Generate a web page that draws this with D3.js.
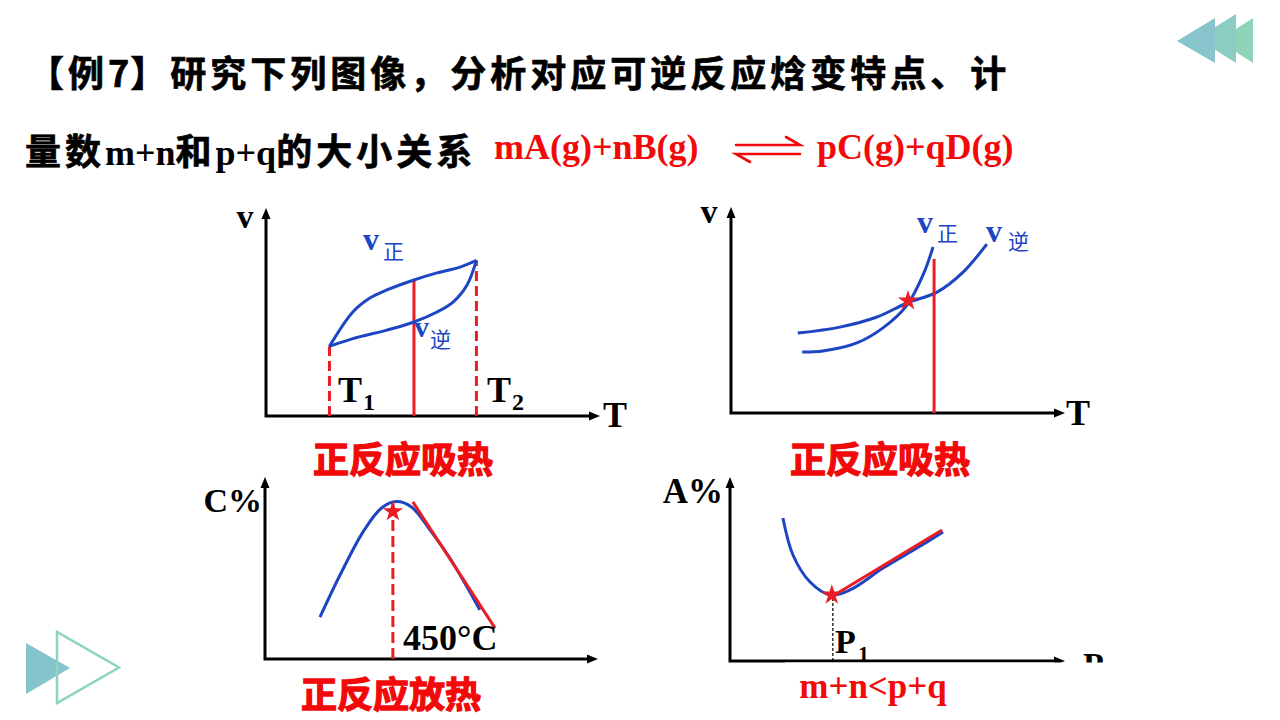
<!DOCTYPE html>
<html><head><meta charset="utf-8">
<script src="https://cdn.jsdelivr.net/npm/d3@7"></script>
<style>body{margin:0;background:#fff;} svg{display:block;}</style>
</head><body>
<svg id="c" width="1280" height="720"></svg>
<script>
// ---------------- DATA ----------------
const titleLine1 = [["【例","cjk"],["7","num"],["】研究下列图像，分析对应可逆反应焓变特点、计","cjk"]];
const titleLine2 = [["量数","cjk"],["m+n","lat"],["和","cjk"],["p+q","lat"],["的大小关系","cjk"]];
const eqLeft = "mA(g)+nB(g)";
const eqRight = "pC(g)+qD(g)";

// Panel 1: v vs T (T1..T2)
const p1VForward = [[1.9,3.35],[2.6,5.0],[3.11,5.67],[3.62,6.06],[4.43,6.54],[5.12,6.88],[5.81,7.16],[6.3,7.48]];
const p1VReverse = [[1.9,3.35],[2.6,3.72],[3.62,4.13],[4.43,4.52],[5.12,5.0],[5.6,5.48],[6.02,6.3],[6.3,7.48]];
const p1Marks = {t1:1.9, t2:6.3, tMid:4.43};

// Panel 2: v vs T, crossing curves
const p2VForward = [[2.13,2.96],[2.75,3.01],[3.77,3.4],[4.55,4.13],[5.27,5.24],[5.75,6.7],[6.05,8.06]];
const p2VReverse = [[2.0,3.88],[3.26,4.17],[4.37,4.66],[5.27,5.34],[6.17,5.87],[6.95,6.84],[7.66,8.2]];
const p2Star = [5.3,5.45];
const p2Line = [[6.08,0],[6.08,7.48]];

// Panel 3: C% vs T
const p3Curve = [[1.65,2.3],[2.25,4.6],[2.95,7.0],[3.5,8.3],[3.95,8.65],[4.4,8.35],[4.95,7.1],[5.55,5.55],[6.45,2.7]];
const p3Tangent = [[4.44,8.63],[6.91,1.7]];
const p3Star = [3.84,8.1];
const p3Dash = [[3.84,0],[3.84,8.6]];

// Panel 4: A% vs P
const p4Curve = [[1.58,7.77],[1.88,5.76],[2.39,4.29],[2.99,3.59],[3.58,3.86],[4.57,5.05],[5.58,6.14],[6.36,7.01]];
const p4Tangent = [[3.07,3.53],[6.33,7.12]];
const p4Star = [3.04,3.59];
const p4Dash = [[3.07,0],[3.07,3.5]];

const captions = ["正反应吸热","正反应吸热","正反应放热","m+n<p+q"];

// ---------------- STYLE ----------------
const BLUE = "#1c45c4", RED = "#ea1c24", TRED = "#f20a0a";
const SERIF = "'Liberation Serif','Times New Roman',serif";
const CJK = "'Noto Sans CJK SC','Noto Sans',sans-serif";

const svg = d3.select("#c");

// decorations
const deco = svg.append("g");
deco.append("polygon").attr("points","1253,18 1253,63 1218,40.5").attr("fill","#8fd4b9");
deco.append("polygon").attr("points","1236,14 1236,63 1197,38.5").attr("fill","#8bcdc3");
deco.append("polygon").attr("points","1215,18 1215,63 1177,41").attr("fill","#88c4cc");
deco.append("polygon").attr("points","26,643 26,694 70,668").attr("fill","#84c4cc");
deco.append("polygon").attr("points","57,632 57,703 119,667.5").attr("fill","none").attr("stroke","#8ed3bf").attr("stroke-width",2.5);

// title
function richLine(x,y,parts){
  const t = svg.append("text").attr("x",x).attr("y",y).attr("font-size",36).attr("fill","#000");
  parts.forEach(([s,k])=>{
    const ts = t.append("tspan").text(s);
    if(k==="cjk") ts.attr("font-family",CJK).attr("font-weight",700).attr("letter-spacing",4)
      .attr("stroke","#000").attr("stroke-width",0.7);
    else if(k==="num") ts.attr("font-family",CJK).attr("font-weight",700).attr("letter-spacing",1)
      .attr("stroke","#000").attr("stroke-width",0.7);
    else ts.attr("font-family",SERIF).attr("font-weight",700).attr("letter-spacing",0);
  });
  return t;
}
richLine(28,87,titleLine1);
richLine(25,165,titleLine2);

svg.append("text").attr("x",494).attr("y",159).attr("font-family",SERIF).attr("font-weight",700)
  .attr("font-size",36).attr("fill",TRED).text(eqLeft);
svg.append("text").attr("x",817).attr("y",159).attr("font-family",SERIF).attr("font-weight",700)
  .attr("font-size",36).attr("fill",TRED).text(eqRight);
const eqA = svg.append("g").attr("stroke",TRED).attr("stroke-width",2.6).attr("fill","none").attr("stroke-linecap","round");
eqA.append("path").attr("d","M736,145H800L786,137");
eqA.append("path").attr("d","M800,154H736L750,162");

// ---------------- PANELS ----------------
const frames = [
  {ox:266, oy:416, w:334, h:208},
  {ox:731, oy:413, w:334, h:206},
  {ox:265, oy:659, w:333, h:182},
  {ox:730, oy:661, w:335, h:184}
];
const scales = frames.map(f=>({
  x: d3.scaleLinear().domain([0,10]).range([f.ox, f.ox+f.w]),
  y: d3.scaleLinear().domain([0,10]).range([f.oy, f.oy-f.h])
}));

function axes(s){
  const g = svg.append("g");
  const x0=s.x(0), y0=s.y(0), x1=s.x(10), y1=s.y(10);
  g.append("path").attr("d",`M${x0},${y0}H${x1-8}M${x0},${y0+1.5}V${y1+8}`)
    .attr("stroke","#000").attr("stroke-width",3).attr("fill","none");
  g.append("path").attr("d",`M${x1},${y0}L${x1-11},${y0-4.5}L${x1-11},${y0+4.5}Z`).attr("fill","#000");
  g.append("path").attr("d",`M${x0},${y1}L${x0-4.5},${y1+11}L${x0+4.5},${y1+11}Z`).attr("fill","#000");
}
function curve(s,data,color,w){
  const line = d3.line().x(d=>s.x(d[0])).y(d=>s.y(d[1])).curve(d3.curveCatmullRom.alpha(0.5));
  return svg.append("path").attr("d",line(data)).attr("fill","none").attr("stroke",color)
    .attr("stroke-width",w||3).attr("stroke-linecap","butt");
}
function straight(s,data,color,w,dash){
  const p = svg.append("path").attr("d",d3.line().x(d=>s.x(d[0])).y(d=>s.y(d[1]))(data))
    .attr("fill","none").attr("stroke",color).attr("stroke-width",w);
  if(dash) p.attr("stroke-dasharray",dash);
  return p;
}
function star(s,pt){
  svg.append("path").attr("d",d3.symbol(d3.symbolStar,130)())
    .attr("transform",`translate(${s.x(pt[0])},${s.y(pt[1])})`).attr("fill",RED);
}
function txt(x,y,str,opt){
  const t = svg.append("text").attr("x",x).attr("y",y).text(str)
    .attr("font-family",opt.f||SERIF).attr("font-weight",opt.w||700)
    .attr("font-size",opt.s).attr("fill",opt.c||"#000")
    .attr("text-anchor",opt.a||"start").attr("dominant-baseline",opt.b||"alphabetic");
  if(opt.sw) t.attr("stroke",opt.c||"#000").attr("stroke-width",opt.sw);
  return t;
}

// Panel 1
{
  const s = scales[0];
  axes(s);
  straight(s,[[p1Marks.t1,0],[p1Marks.t1,p1VForward[0][1]]],RED,3,"10,5");
  straight(s,[[p1Marks.t2,0],[p1Marks.t2,p1VForward[p1VForward.length-1][1]]],RED,3,"10,5");
  straight(s,[[p1Marks.tMid,0],[p1Marks.tMid,6.54]],RED,3);
  curve(s,p1VForward,BLUE);
  curve(s,p1VReverse,BLUE);
  txt(245,228,"v",{s:34,a:"middle"});
  txt(615,427,"T",{s:36,a:"middle"});
  txt(363,250,"v",{s:32,c:BLUE});
  txt(383,259,"正",{s:21,c:BLUE,f:CJK,w:400});
  txt(414,337,"v",{s:30,c:BLUE});
  txt(430,347,"逆",{s:21,c:BLUE,f:CJK,w:400});
  txt(338,402,"T",{s:36});
  txt(363,410,"1",{s:24});
  txt(487,402,"T",{s:36});
  txt(512,410,"2",{s:24});
  txt(403,457,captions[0],{s:36,c:TRED,f:CJK,a:"middle",b:"central",sw:1.3});
}
// Panel 2
{
  const s = scales[1];
  axes(s);
  curve(s,p2VReverse,BLUE);
  curve(s,p2VForward,BLUE);
  straight(s,p2Line,RED,3);
  star(s,p2Star);
  txt(709,223,"v",{s:34,a:"middle"});
  txt(1078,425,"T",{s:36,a:"middle"});
  txt(917,233,"v",{s:32,c:BLUE});
  txt(937,241,"正",{s:21,c:BLUE,f:CJK,w:400});
  txt(986,242,"v",{s:32,c:BLUE});
  txt(1008,249,"逆",{s:21,c:BLUE,f:CJK,w:400});
  txt(880,457,captions[1],{s:36,c:TRED,f:CJK,a:"middle",b:"central",sw:1.3});
}
// Panel 3
{
  const s = scales[2];
  axes(s);
  curve(s,p3Curve,BLUE);
  straight(s,p3Tangent,RED,3);
  straight(s,p3Dash,RED,3,"11,5");
  star(s,p3Star);
  txt(262,512,"C%",{s:34,a:"end"});
  txt(403,650,"450°C",{s:36});
  txt(391,692,captions[2],{s:36,c:TRED,f:CJK,a:"middle",b:"central",sw:1.3});
}
// Panel 4
{
  const s = scales[3];
  axes(s);
  curve(s,p4Curve,BLUE);
  straight(s,p4Tangent,RED,3);
  straight(s,p4Dash,"#000",1.2,"3,2");
  star(s,p4Star);
  txt(723,503,"A%",{s:35,a:"end"});
  txt(835,653,"P",{s:34});
  txt(858,661,"1",{s:22});
  txt(1083,676,"P",{s:34});
  svg.append("rect").attr("x",785).attr("y",662.5).attr("width",330).attr("height",60).attr("fill","#fff");
  txt(873,698,captions[3],{s:35,c:TRED,a:"middle"});
}
</script>
</body></html>
